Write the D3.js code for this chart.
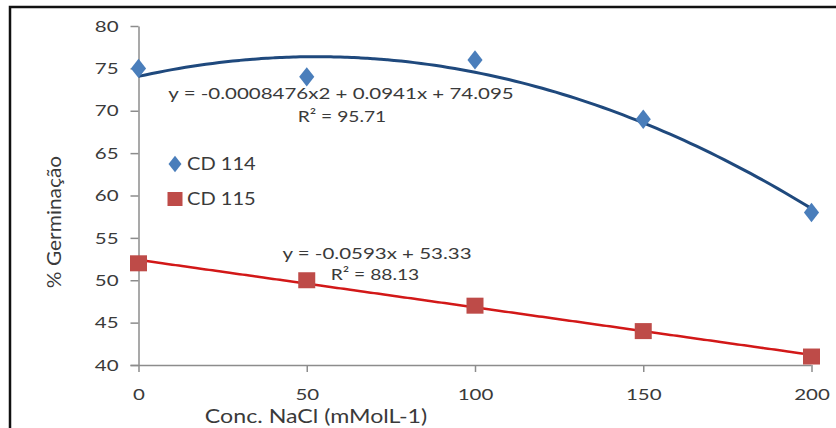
<!DOCTYPE html>
<html>

<head>
  <meta charset="UTF-8">
  <title>Germinação x NaCl</title>
  <script src="https://d3js.org/d3.v7.min.js"></script>
  <style>
    body {
      margin: 0;
      background: #fff;
    }

    svg text {
      font-family: Lato, "Open Sans", sans-serif;
      fill: #3a3a3a;
    }

    .axis path,
    .axis line {
      stroke: #8c8c8c;
      stroke-width: 1.5px;
    }
  </style>
</head>

<body>
  <div id="chart"></div>

  <script>
    // chart data
    const concNaCl = [0, 50, 100, 150, 200];
    const cd114 = [75, 74, 76, 69, 58];
    const cd115 = [52, 50, 47, 44, 41];
    const xTicks = [0, 50, 100, 150, 200];
    const yTicks = [40, 45, 50, 55, 60, 65, 70, 75, 80];
    const seriesNames = ["CD 114", "CD 115"];
    const eqLabels = ["y = -0.0008476x2 + 0.0941x + 74.095", "y = -0.0593x + 53.33"];
    const r2Labels = ["R\u00B2 = 95.71", "R\u00B2 = 88.13"];

    const width = 836, height = 428;
    const margin = { top: 26, right: 24, bottom: 63, left: 138.5 };

    // the original picture is a bit wider than tall, so text is stretched sideways
    function stretch(sel, k) {
      sel.each(function () {
        const w = this.getComputedTextLength();
        d3.select(this)
          .attr("textLength", w * k)
          .attr("lengthAdjust", "spacingAndGlyphs");
      });
    }

    const svg = d3.select("#chart")
      .append("svg")
      .attr("width", width)
      .attr("height", height);

    // outer frame (cut off on the right and bottom)
    svg.append("path")
      .attr("d", `M10,${height + 5} L10,7 L${width + 5},7`)
      .attr("fill", "none")
      .attr("stroke", "#111")
      .attr("stroke-width", 2.5);

    const x = d3.scaleLinear()
      .domain([0, 200])
      .range([margin.left, 811.5]);

    const y = d3.scaleLinear()
      .domain([40, 80])
      .range([365, 26]);

    // axes
    const xAxis = svg.append("g")
      .attr("class", "axis")
      .attr("transform", `translate(0, ${y(40)})`)
      .call(d3.axisBottom(x).tickValues(xTicks).tickSize(7).tickSizeOuter(0).tickPadding(17));
    xAxis.select(".domain").attr("d", `M${x(0) - 8},0.5H${x(200)}`);

    const yAxis = svg.append("g")
      .attr("class", "axis")
      .attr("transform", `translate(${x(0)}, 0)`)
      .call(d3.axisLeft(y).tickValues(yTicks).tickSize(8).tickSizeOuter(0).tickPadding(12));

    svg.selectAll(".axis text")
      .attr("fill", "#3a3a3a")
      .style("font-size", "16px")
      .call(stretch, 1.28);

    // axis titles
    svg.append("text")
      .attr("x", 316)
      .attr("y", 423)
      .attr("text-anchor", "middle")
      .style("font-size", "19px")
      .text("Conc. NaCl (mMolL-1)")
      .call(stretch, 1.22);

    svg.append("text")
      .attr("transform", "translate(61, 222) rotate(-90)")
      .attr("text-anchor", "middle")
      .style("font-size", "19px")
      .text("% Germinação")
      .call(stretch, 1.1);

    // least squares polynomial fit (like the spreadsheet trendline)
    function polyFit(xs, ys, degree) {
      const n = degree + 1;
      const A = [];
      for (let r = 0; r < n; r++) {
        A.push([]);
        for (let c = 0; c < n; c++) A[r].push(d3.sum(xs, v => Math.pow(v, r + c)));
        A[r].push(d3.sum(xs, (v, i) => Math.pow(v, r) * ys[i]));
      }
      for (let i = 0; i < n; i++) {
        for (let k = i + 1; k < n; k++) {
          const f = A[k][i] / A[i][i];
          for (let j = i; j <= n; j++) A[k][j] -= f * A[i][j];
        }
      }
      const coef = new Array(n).fill(0);
      for (let i = n - 1; i >= 0; i--) {
        let s = A[i][n];
        for (let j = i + 1; j < n; j++) s -= A[i][j] * coef[j];
        coef[i] = s / A[i][i];
      }
      return coef;
    }

    function trend(coef) {
      return d3.range(0, 201, 2).map(v => [v, d3.sum(coef, (c, i) => c * Math.pow(v, i))]);
    }

    const line = d3.line()
      .x(d => x(d[0]))
      .y(d => y(d[1]))
      .curve(d3.curveBasis);

    // trendlines
    svg.append("path")
      .datum(trend(polyFit(concNaCl, cd114, 2)))
      .attr("fill", "none")
      .attr("stroke", "#1f497d")
      .attr("stroke-width", 3)
      .attr("d", line);

    svg.append("path")
      .datum(trend(polyFit(concNaCl, cd115, 1)))
      .attr("fill", "none")
      .attr("stroke", "#d21818")
      .attr("stroke-width", 2.5)
      .attr("d", line);

    // markers
    svg.selectAll(".cd114")
      .data(cd114)
      .enter().append("path")
      .attr("class", "cd114")
      .attr("d", d3.symbol().type(d3.symbolDiamond).size(150))
      .attr("transform", (d, i) => `translate(${x(concNaCl[i])}, ${y(d)}) scale(1.15, 0.85)`)
      .attr("fill", "#4a7ebb");

    svg.selectAll(".cd115")
      .data(cd115)
      .enter().append("rect")
      .attr("class", "cd115")
      .attr("x", (d, i) => x(concNaCl[i]) - 8.5)
      .attr("y", d => y(d) - 8)
      .attr("width", 17)
      .attr("height", 16)
      .attr("fill", "#be4b48");

    // trendline labels
    const eqPos = [[341, 99], [377, 259]];
    const r2Pos = [[342, 122], [375, 280]];
    svg.selectAll(".eq")
      .data(eqLabels)
      .enter().append("text")
      .attr("class", "eq")
      .attr("x", (d, i) => eqPos[i][0])
      .attr("y", (d, i) => eqPos[i][1])
      .attr("text-anchor", "middle")
      .style("font-size", "16px")
      .text(d => d)
      .call(stretch, 1.28);
    svg.selectAll(".r2")
      .data(r2Labels)
      .enter().append("text")
      .attr("class", "r2")
      .attr("x", (d, i) => r2Pos[i][0])
      .attr("y", (d, i) => r2Pos[i][1])
      .attr("text-anchor", "middle")
      .style("font-size", "16px")
      .text(d => d)
      .call(stretch, 1.2);

    // legend
    const legend = svg.append("g").attr("transform", "translate(175, 164)");
    legend.append("path")
      .attr("d", d3.symbol().type(d3.symbolDiamond).size(110))
      .attr("transform", "scale(1.15, 0.85)")
      .attr("fill", "#4a7ebb");
    legend.append("rect")
      .attr("x", -7.5).attr("y", 28)
      .attr("width", 15).attr("height", 14)
      .attr("fill", "#be4b48");
    legend.selectAll(".legend-label")
      .data(seriesNames)
      .enter().append("text")
      .attr("class", "legend-label")
      .attr("x", 12)
      .attr("y", (d, i) => i * 35 + 6)
      .style("font-size", "17px")
      .text(d => d)
      .call(stretch, 1.18);
  </script>
</body>

</html>
